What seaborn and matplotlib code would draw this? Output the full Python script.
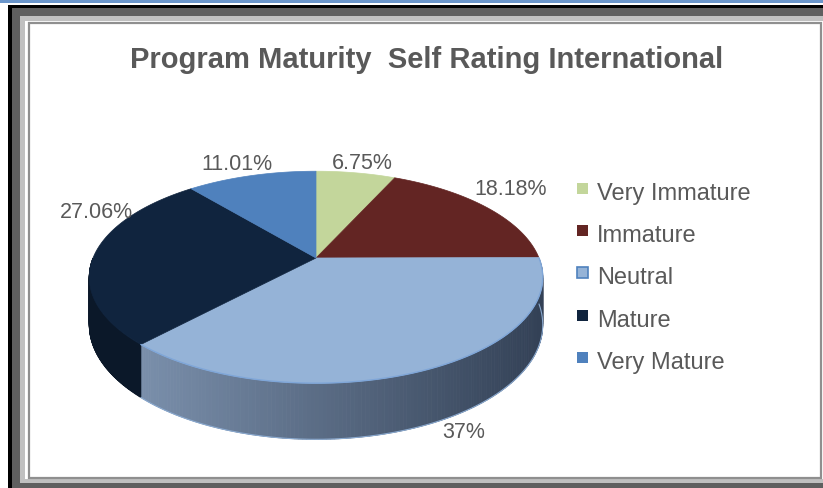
import numpy as np
import matplotlib
matplotlib.use("Agg")
import matplotlib.pyplot as plt
from matplotlib.patches import Rectangle, Polygon
from matplotlib.colors import to_rgb
import seaborn as sns

# ---------------- data ----------------
categories = ["Very Immature", "Immature", "Neutral", "Mature", "Very Mature"]
values = [6.75, 18.18, 37.0, 27.06, 11.01]
value_labels = ["6.75%", "18.18%", "37%", "27.06%", "11.01%"]
title = "Program Maturity  Self Rating International"

# ---------------- style ----------------
sns.set_theme(style="white")
plt.rcParams["font.family"] = ["Liberation Sans", "DejaVu Sans"]
palette = sns.color_palette(["#c3d69b", "#632523", "#95b3d7", "#10243e", "#4f81bd"])
TEXT = "#595959"

W, H = 823, 489
fig = plt.figure(figsize=(W / 100, H / 100), dpi=100)
ax = fig.add_axes([0, 0, 1, 1])
ax.set_xlim(0, W)
ax.set_ylim(H, 0)
ax.axis("off")

# ---------------- frame ----------------
ax.add_patch(Rectangle((0, 0), W, 3.5, color="#6b96cb", lw=0))
ax.add_patch(Rectangle((8, 6), W, H, color="#000000", lw=0))
ax.add_patch(Rectangle((12, 9), W, H, color="#5f5f5f", lw=0))
ax.add_patch(Rectangle((20, 17), W, 467, color="#c0c0c0", lw=0))
ax.add_patch(Rectangle((25, 22), W, 458, color="#ffffff", lw=0))
ax.add_patch(Rectangle((29.5, 24), 791.5, 454.5, facecolor="#ffffff",
                       edgecolor="#8f8f8f", lw=1.6))

# ---------------- 3D pie geometry ----------------
cx, cy = 316.0, 259.0   # pie centre on screen
A, B = 223.0, 102.5     # radii
K = 0.181               # perspective factor
DEPTH = 46.0            # thickness


def proj(phi, r=1.0, z=0.0):
    s = np.sin(phi)
    d = 1.0 + K * r * s
    return cx + A * r * np.cos(phi) / d, cy - B * r * s / d + z * DEPTH / d


fr = np.array(values) / np.sum(values)
cum = np.concatenate([[0], np.cumsum(fr)])
start_phi = np.pi / 2 - 2 * np.pi * cum[:-1]   # clockwise from 12 o'clock
end_phi = np.pi / 2 - 2 * np.pi * cum[1:]

side_grad = {
    2: ("#7a8fab", "#334156"),
    3: ("#0b1829", "#0f1f35"),
}

# side walls (front half only)
for i in range(len(values)):
    p0, p1 = start_phi[i], end_phi[i]
    lo, hi = max(p1, -np.pi), min(p0, 0.0)
    if hi <= lo:
        continue
    phis = np.linspace(hi, lo, 160)
    c_l, c_r = side_grad.get(i, (palette[i], palette[i]))
    c_l, c_r = np.array(to_rgb(c_l)), np.array(to_rgb(c_r))
    xmin, xmax = 140.0, 540.0
    for j in range(len(phis) - 1):
        xa, ya = proj(phis[j])
        xb, yb = proj(phis[j + 1])
        xa2, ya2 = proj(phis[j], z=1.0)
        xb2, yb2 = proj(phis[j + 1], z=1.0)
        t = np.clip(((xa + xb) / 2 - xmin) / (xmax - xmin), 0, 1)
        col = c_l * (1 - t) + c_r * t
        ax.add_patch(Polygon([(xa, ya), (xb, yb), (xb2, yb2), (xa2, ya2)],
                             closed=True, facecolor=col, edgecolor=col, lw=0.6))
    if i == 2:
        bx, by = zip(*[proj(p, z=1.0) for p in phis])
        ax.plot(bx, by, color="#8aa9cf", lw=0.8)

# top faces
for i in range(len(values)):
    phis = np.linspace(start_phi[i], end_phi[i], 200)
    pts = [(cx, cy)] + [proj(p) for p in phis]
    ax.add_patch(Polygon(pts, closed=True, facecolor=palette[i],
                         edgecolor=palette[i], lw=0.5))

# light rim on the front edge of the Neutral slice
phis = np.linspace(max(end_phi[2], -np.pi), min(start_phi[2], 0), 200)
rx, ry = zip(*[proj(p) for p in phis])
ax.plot(rx, ry, color="#7fa6d8", lw=1.0)

# ---------------- data labels ----------------
label_r = [1.08, 1.17, 1.0, 1.08, 1.07]
label_dz = [0.0, 0.0, 1.0, 0.0, 0.0]
label_nudge = [(4, -5), (-2, -11), (40, 6), (20, -43), (-11, -7)]
for i in range(len(values)):
    mid = (start_phi[i] + end_phi[i]) / 2
    x, y = proj(mid, r=label_r[i], z=label_dz[i])
    ax.text(x + label_nudge[i][0], y + label_nudge[i][1], value_labels[i],
            fontsize=15.5, color=TEXT, ha="center", va="center")

# ---------------- title ----------------
ax.text(427, 60, title, fontsize=21, fontweight="bold", color=TEXT,
        ha="center", va="center")

# ---------------- legend ----------------
leg_x, leg_y, leg_step = 577, 189.5, 42.2
for i, cat in enumerate(categories):
    y = leg_y + i * leg_step
    ec = "#4f81bd" if i == 2 else palette[i]
    ax.add_patch(Rectangle((leg_x, y - 5.5), 11, 11, facecolor=palette[i],
                           edgecolor=ec, lw=1.2 if i == 2 else 0))
    ax.text(leg_x + 20, y + 10.5, cat, fontsize=17, color=TEXT, ha="left",
            va="baseline")

fig.savefig("out.png", dpi=100)
